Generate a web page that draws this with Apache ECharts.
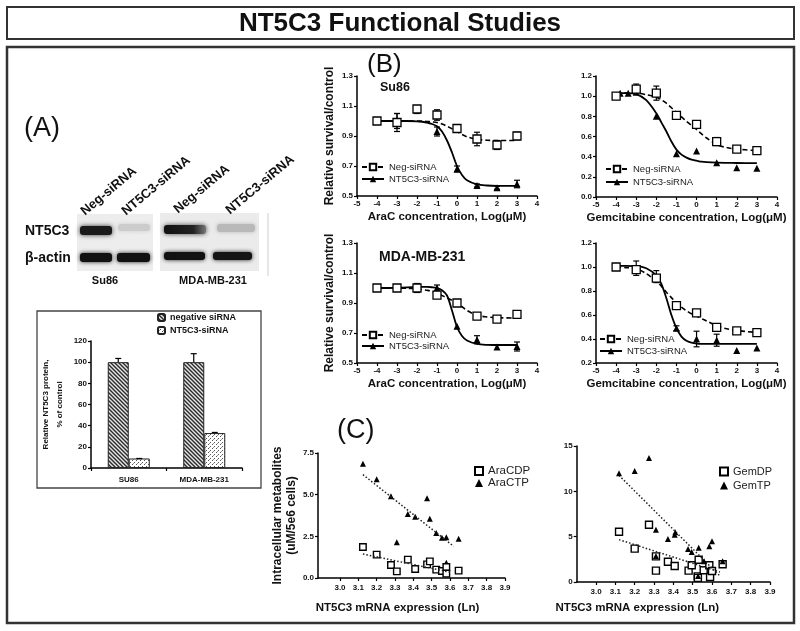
<!DOCTYPE html>
<html><head><meta charset="utf-8">
<script src="https://cdn.jsdelivr.net/npm/echarts@6/dist/echarts.min.js"></script>
<style>html,body{margin:0;padding:0;background:#fff}#c{width:800px;height:631px}</style>
</head><body><div id="c"></div><script>
// ---------------- DATA ----------------
const barCategories = ['SU86', 'MDA-MB-231'];
const barNeg = [100, 100];
const barNegErr = [3.5, 8];
const barKd = [9, 33];
const barKdErr = [0, 0.6];

const doseTicks = [-5, -4, -3, -2, -1, 0, 1, 2, 3, 4];
const doseX = [-4, -3, -2, -1, 0, 1, 2, 3];
const fitX = [-4, -3.5, -3, -2.5, -2, -1.75, -1.5, -1.25, -1, -0.75, -0.5, -0.25, 0, 0.25, 0.5, 1, 1.5, 2, 3];

// Su86 / AraC
const su86AraNeg = [1.00, 0.99, 1.08, 1.04, 0.95, 0.88, 0.84, 0.90];
const su86AraNegErr = [0, 0.06, 0.02, 0.035, 0.025, 0.045, 0.03, 0.025];
const su86AraKdX = [-4, -3, -2, -1, 0, 1, 2, 3];
const su86AraKd = [1.00, 1.00, 1.07, 0.93, 0.68, 0.57, 0.555, 0.58];
const su86AraKdErr = [0, 0.05, 0.02, 0.03, 0.02, 0.01, 0.01, 0.025];
const su86AraNegFit = [1.0, 1.0, 1.0, 1.0, 1.0, 0.999, 0.997, 0.994, 0.99, 0.98, 0.965, 0.948, 0.93, 0.91, 0.895, 0.878, 0.872, 0.87, 0.87];
const su86AraKdFit = [1.0, 1.0, 1.0, 1.0, 0.998, 0.995, 0.99, 0.98, 0.965, 0.93, 0.87, 0.79, 0.70, 0.64, 0.605, 0.577, 0.57, 0.568, 0.568];

// Su86 / Gemcitabine
const su86GemNeg = [1.00, 1.07, 1.03, 0.81, 0.72, 0.55, 0.475, 0.46];
const su86GemNegErr = [0.01, 0.05, 0.07, 0.03, 0.03, 0.04, 0.02, 0.015];
const su86GemKdX = [-4, -3.8, -3.4, -3, -2, -1, 0, 1, 2, 3];
const su86GemKd = [1.00, 1.03, 1.03, 1.04, 0.80, 0.43, 0.455, 0.34, 0.29, 0.285];
const su86GemKdErr = [0, 0, 0, 0, 0, 0, 0, 0, 0, 0];
const su86GemNegFit = [1.03, 1.03, 1.03, 1.015, 0.99, 0.965, 0.93, 0.885, 0.84, 0.795, 0.75, 0.71, 0.67, 0.625, 0.585, 0.52, 0.49, 0.475, 0.46];
const su86GemKdFit = [1.03, 1.03, 1.02, 0.96, 0.83, 0.74, 0.65, 0.55, 0.47, 0.42, 0.39, 0.37, 0.36, 0.35, 0.345, 0.34, 0.338, 0.337, 0.335];

// MDA-MB-231 / AraC
const mdaAraNeg = [1.00, 1.00, 1.00, 0.953, 0.90, 0.813, 0.793, 0.824];
const mdaAraNegErr = [0, 0, 0, 0, 0, 0, 0, 0];
const mdaAraKdX = [-4, -3, -2, -1, 0, 1, 2, 3];
const mdaAraKd = [1.00, 1.00, 1.00, 1.00, 0.745, 0.655, 0.607, 0.61];
const mdaAraKdErr = [0, 0.02, 0.03, 0.02, 0, 0.027, 0, 0.03];
const mdaAraNegFit = [1.0, 1.0, 1.0, 0.998, 0.995, 0.99, 0.985, 0.978, 0.965, 0.95, 0.935, 0.918, 0.90, 0.875, 0.85, 0.818, 0.807, 0.802, 0.80];
const mdaAraKdFit = [1.0, 1.0, 1.002, 1.004, 1.006, 1.007, 1.007, 1.005, 1.0, 0.985, 0.95, 0.85, 0.74, 0.68, 0.65, 0.627, 0.621, 0.62, 0.62];

// MDA-MB-231 / Gemcitabine
const mdaGemNeg = [1.00, 0.978, 0.908, 0.678, 0.617, 0.497, 0.467, 0.453];
const mdaGemNegErr = [0, 0, 0, 0, 0, 0, 0, 0];
const mdaGemKdX = [-4, -3, -2, -1, 0, 1, 2, 3];
const mdaGemKd = [1.00, 0.99, 0.92, 0.49, 0.40, 0.39, 0.305, 0.325];
const mdaGemKdErr = [0, 0.06, 0.05, 0.02, 0.065, 0.05, 0, 0];
const mdaGemNegFit = [1.0, 0.995, 0.985, 0.945, 0.88, 0.84, 0.79, 0.745, 0.70, 0.665, 0.635, 0.61, 0.59, 0.57, 0.55, 0.51, 0.485, 0.47, 0.455];
const mdaGemKdFit = [1.01, 1.01, 1.008, 0.99, 0.93, 0.86, 0.74, 0.60, 0.49, 0.42, 0.385, 0.37, 0.362, 0.36, 0.36, 0.36, 0.36, 0.36, 0.36];

// Panel C
const mrnaTicks = [3.0, 3.1, 3.2, 3.3, 3.4, 3.5, 3.6, 3.7, 3.8, 3.9];
const araX = [3.125, 3.20, 3.278, 3.31, 3.37, 3.41, 3.475, 3.49, 3.525, 3.556, 3.58, 3.58, 3.647];
const araCDP = [1.86, 1.40, 0.78, 0.40, 1.10, 0.54, 0.82, 1.00, 0.50, 0.42, 0.66, 0.26, 0.44];
const araCTP = [6.86, 5.92, 4.90, 2.14, 3.84, 3.68, 4.78, 3.56, 2.70, 2.42, 2.44, 0.92, 2.36];
const araCDPTrendX = [3.125, 3.60];
const araCDPTrend = [1.44, 0.35];
const araCTPTrendX = [3.125, 3.62];
const araCTPTrend = [6.2, 1.9];

const gemDPX = [3.119, 3.20, 3.274, 3.31, 3.31, 3.372, 3.407, 3.479, 3.495, 3.531, 3.526, 3.527, 3.557, 3.586, 3.59, 3.60, 3.655];
const gemDP = [5.55, 3.68, 6.32, 2.83, 1.25, 2.24, 1.76, 1.25, 1.84, 2.46, 0.62, 0.45, 1.29, 1.84, 0.55, 1.21, 1.95];
const gemTPX = [3.119, 3.20, 3.274, 3.31, 3.31, 3.372, 3.407, 3.41, 3.476, 3.495, 3.531, 3.528, 3.559, 3.586, 3.60, 3.655];
const gemTP = [12.0, 12.24, 13.68, 5.77, 2.87, 4.74, 5.22, 5.5, 3.64, 3.31, 3.79, 0.66, 2.28, 3.93, 4.49, 2.28];
const gemDPTrendX = [3.119, 3.641];
const gemDPTrend = [4.67, 1.1];
const gemTPTrendX = [3.119, 3.641];
const gemTPTrend = [11.76, 0.66];

// ---------------- RENDER ----------------
const FONT = "'Liberation Sans', Arial, Helvetica, sans-serif";
const zip = (xs, ys) => xs.map((x, i) => [x, ys[i]]);

function hatchCanvas() {
  const c = document.createElement('canvas'); c.width = 4; c.height = 4;
  const g = c.getContext('2d');
  g.fillStyle = '#e6e6e6'; g.fillRect(0, 0, 4, 4);
  g.strokeStyle = '#2a2a2a'; g.lineWidth = 1.4;
  g.beginPath();
  g.moveTo(-1, -1); g.lineTo(5, 5);
  g.moveTo(-1, 3); g.lineTo(1, 5);
  g.moveTo(3, -1); g.lineTo(5, 1);
  g.stroke();
  return c;
}
function dotCanvas() {
  const c = document.createElement('canvas'); c.width = 4; c.height = 4;
  const g = c.getContext('2d');
  g.fillStyle = '#ffffff'; g.fillRect(0, 0, 4, 4);
  g.fillStyle = '#555';
  g.fillRect(0, 0, 1, 1); g.fillRect(2, 2, 1, 1); g.fillStyle = '#999'; g.fillRect(1, 3, 1, 1);
  return c;
}

function merge(a, b) {
  const o = Object.assign({}, a);
  for (const k in b) {
    if (b[k] && typeof b[k] === 'object' && !Array.isArray(b[k]) && a[k] && typeof a[k] === 'object') o[k] = Object.assign({}, a[k], b[k]);
    else o[k] = b[k];
  }
  return o;
}
const axisBase = {
  axisLine: { show: true, onZero: false, lineStyle: { color: '#000', width: 1.5 } },
  axisTick: { show: true, length: 3, inside: false, lineStyle: { color: '#000', width: 1.2 } },
  axisLabel: { color: '#111', fontSize: 8, fontWeight: 'bold', fontFamily: FONT, margin: 4 },
  splitLine: { show: false },
  nameTextStyle: { color: '#111', fontWeight: 'bold', fontFamily: FONT, fontSize: 11.5 }
};
const ax = (o) => merge(axisBase, o);

function errItem(params, api) {
  const x = api.value(0), lo = api.value(1), hi = api.value(2);
  const p1 = api.coord([x, lo]), p2 = api.coord([x, hi]);
  const w = 3, st = { stroke: '#000', lineWidth: 1.2 };
  return { type: 'group', children: [
    { type: 'line', shape: { x1: p1[0], y1: p1[1], x2: p2[0], y2: p2[1] }, style: st },
    { type: 'line', shape: { x1: p2[0] - w, y1: p2[1], x2: p2[0] + w, y2: p2[1] }, style: st },
    { type: 'line', shape: { x1: p1[0] - w, y1: p1[1], x2: p1[0] + w, y2: p1[1] }, style: st }
  ] };
}
function errData(xs, ys, es) {
  const out = [];
  xs.forEach((x, i) => { if (es[i] > 0) out.push([x, ys[i] - es[i], ys[i] + es[i]]); });
  return out;
}

const SQ = { color: '#fff', borderColor: '#000', borderWidth: 1.3, opacity: 1 };
const TRI = { color: '#000', opacity: 1 };

function dosePanel(gi, negY, negErr, kdX, kdY, kdErr, negFit, kdFit) {
  const a = { xAxisIndex: gi, yAxisIndex: gi };
  return [
    Object.assign({ type: 'line', name: 'Neg-siRNA', data: zip(fitX, negFit), smooth: 0.3, symbol: 'emptyRect', symbolSize: 7, showSymbol: false,
      lineStyle: { color: '#000', width: 1.6, type: [5, 3] }, itemStyle: { color: '#000' }, z: 2, silent: true }, a),
    Object.assign({ type: 'line', name: 'NT5C3-siRNA', data: zip(fitX, kdFit), smooth: 0.3, symbol: 'triangle', symbolSize: 7, showSymbol: false,
      lineStyle: { color: '#000', width: 1.8 }, itemStyle: { color: '#000' }, z: 2, silent: true }, a),
    Object.assign({ type: 'custom', name: 'err-kd', renderItem: errItem, data: errData(kdX, kdY, kdErr), encode: { x: 0, y: [1, 2] }, z: 3, silent: true }, a),
    Object.assign({ type: 'custom', name: 'err-neg', renderItem: errItem, data: errData(doseX, negY, negErr), encode: { x: 0, y: [1, 2] }, z: 3, silent: true }, a),
    Object.assign({ type: 'scatter', name: 'kd-pts', data: zip(kdX, kdY), symbol: 'triangle', symbolSize: 7, itemStyle: TRI, z: 4, silent: true }, a),
    Object.assign({ type: 'scatter', name: 'neg-pts', data: zip(doseX, negY), symbol: 'rect', symbolSize: 8, itemStyle: SQ, z: 5, silent: true }, a)
  ];
}

const hatch = { image: hatchCanvas(), repeat: 'repeat' };
const dots = { image: dotCanvas(), repeat: 'repeat' };
const barW = 21;

function barErr(offset) {
  return function (params, api) {
    const i = api.value(0), v = api.value(1), e = api.value(2);
    const p1 = api.coord([i, v]), p2 = api.coord([i, v + e]);
    const x = p1[0] + offset, w = 3, st = { stroke: '#000', lineWidth: 1.2 };
    return { type: 'group', children: [
      { type: 'line', shape: { x1: x, y1: p1[1], x2: x, y2: p2[1] }, style: st },
      { type: 'line', shape: { x1: x - w, y1: p2[1], x2: x + w, y2: p2[1] }, style: st }
    ] };
  };
}

const doseYLabels1 = [0.5, 0.7, 0.9, 1.1, 1.3];
const doseYLabels2 = [0, 0.2, 0.4, 0.6, 0.8, 1.0, 1.2];
const doseYLabels4 = [0.2, 0.4, 0.6, 0.8, 1.0, 1.2];
const fmt1 = (v) => Number(v).toFixed(1);

const doseX_axis = (gi, name) => ax({ type: 'value', gridIndex: gi, min: -5, max: 4, interval: 1, name: name, nameLocation: 'middle', nameGap: 15,
  axisLabel: { formatter: (v) => String(v) } });

const legText = (size) => ({ fontSize: size, color: '#222', fontFamily: FONT });

const option = {
  animation: false,
  textStyle: { fontFamily: FONT },
  grid: [
    { left: 91, top: 341, width: 151, height: 127 },
    { left: 357, top: 76, width: 180, height: 120 },
    { left: 596, top: 76, width: 181, height: 121 },
    { left: 357, top: 243, width: 180, height: 120 },
    { left: 596, top: 243, width: 181, height: 120 },
    { left: 318, top: 453, width: 187, height: 125 },
    { left: 576.7, top: 446, width: 193.3, height: 136 }
  ],
  xAxis: [
    ax({ type: 'category', gridIndex: 0, data: barCategories, axisTick: { alignWithLabel: false, length: 3 }, axisLabel: { margin: 8 } }),
    doseX_axis(1, 'AraC concentration, Log(μM)'),
    doseX_axis(2, 'Gemcitabine concentration, Log(μM)'),
    doseX_axis(3, 'AraC concentration, Log(μM)'),
    doseX_axis(4, 'Gemcitabine concentration, Log(μM)'),
    ax({ type: 'value', gridIndex: 5, min: 2.88, max: 3.9, name: 'NT5C3 mRNA expression (Ln)', nameLocation: 'middle', nameGap: 24,
      nameTextStyle: { padding: [0, 28, 0, 0] },
      axisTick: { customValues: mrnaTicks }, axisLabel: { customValues: mrnaTicks, formatter: fmt1, margin: 6 } }),
    ax({ type: 'value', gridIndex: 6, min: 2.9, max: 3.9, name: 'NT5C3 mRNA expression (Ln)', nameLocation: 'middle', nameGap: 20,
      nameTextStyle: { padding: [0, 72, 0, 0] },
      axisTick: { customValues: mrnaTicks }, axisLabel: { customValues: mrnaTicks, formatter: fmt1, margin: 6 } })
  ],
  yAxis: [
    ax({ type: 'value', gridIndex: 0, min: 0, max: 120, interval: 20, name: 'Relative NT5C3 protein,\n% of control', nameLocation: 'middle', nameGap: 24,
      nameTextStyle: { fontSize: 8, lineHeight: 14 } }),
    ax({ type: 'value', gridIndex: 1, min: 0.5, max: 1.3, name: 'Relative survival/control', nameLocation: 'middle', nameGap: 21,
      nameTextStyle: { fontSize: 12 },
      axisTick: { customValues: doseYLabels1 }, axisLabel: { customValues: doseYLabels1, formatter: fmt1 } }),
    ax({ type: 'value', gridIndex: 2, min: 0, max: 1.2,
      axisTick: { customValues: doseYLabels2 }, axisLabel: { customValues: doseYLabels2, formatter: fmt1 } }),
    ax({ type: 'value', gridIndex: 3, min: 0.5, max: 1.3, name: 'Relative survival/control', nameLocation: 'middle', nameGap: 21,
      nameTextStyle: { fontSize: 12 },
      axisTick: { customValues: doseYLabels1 }, axisLabel: { customValues: doseYLabels1, formatter: fmt1 } }),
    ax({ type: 'value', gridIndex: 4, min: 0.2, max: 1.2,
      axisTick: { customValues: doseYLabels4 }, axisLabel: { customValues: doseYLabels4, formatter: fmt1 } }),
    ax({ type: 'value', gridIndex: 5, min: 0, max: 7.5, interval: 2.5, name: 'Intracellular metabolites\n(uM/5e6 cells)', nameLocation: 'middle', nameGap: 14,
      nameTextStyle: { fontSize: 12, lineHeight: 14 }, axisLabel: { formatter: fmt1 } }),
    ax({ type: 'value', gridIndex: 6, min: 0, max: 15, interval: 5 })
  ],
  legend: [
    { left: 157, top: 313, padding: 0, orient: 'vertical', itemWidth: 7, itemHeight: 7, itemGap: 4,
      data: ['bar-neg', 'bar-kd'], formatter: (n) => (n === 'bar-neg' ? 'negative siRNA' : 'NT5C3-siRNA'),
      textStyle: { fontSize: 9, fontWeight: 'bold', color: '#111', fontFamily: FONT } },
    { left: 361, top: 162, padding: 0, orient: 'vertical', itemWidth: 22, itemHeight: 8, itemGap: 2, data: ['Neg-siRNA', 'NT5C3-siRNA'], textStyle: legText(9.5) },
    { left: 605, top: 164, padding: 0, orient: 'vertical', itemWidth: 22, itemHeight: 8, itemGap: 3, data: ['Neg-siRNA', 'NT5C3-siRNA'], textStyle: legText(9.5) },
    { left: 361, top: 330, padding: 0, orient: 'vertical', itemWidth: 22, itemHeight: 8, itemGap: 1, data: ['Neg-siRNA', 'NT5C3-siRNA'], textStyle: legText(9.5) },
    { left: 599, top: 334, padding: 0, orient: 'vertical', itemWidth: 22, itemHeight: 8, itemGap: 2, data: ['Neg-siRNA', 'NT5C3-siRNA'], textStyle: legText(9.5) },
    { left: 474, top: 465, padding: 0, orient: 'vertical', itemWidth: 8, itemHeight: 8, itemGap: 0, data: ['AraCDP', 'AraCTP'], textStyle: legText(11.5) },
    { left: 719, top: 466, padding: 0, orient: 'vertical', itemWidth: 8, itemHeight: 8, itemGap: 3, data: ['GemDP', 'GemTP'], textStyle: legText(11) }
  ],
  series: [].concat(
    [
      { type: 'bar', name: 'bar-neg', xAxisIndex: 0, yAxisIndex: 0, data: barNeg, barWidth: barW, barGap: '0%',
        itemStyle: { color: hatch, borderColor: '#222', borderWidth: 1 }, silent: true },
      { type: 'bar', name: 'bar-kd', xAxisIndex: 0, yAxisIndex: 0, data: barKd, barWidth: barW, barGap: '0%',
        itemStyle: { color: dots, borderColor: '#222', borderWidth: 1 }, silent: true },
      { type: 'custom', name: 'bar-neg-err', xAxisIndex: 0, yAxisIndex: 0, renderItem: barErr(-barW / 2),
        data: barNeg.map((v, i) => [i, v, barNegErr[i]]), encode: { x: 0, y: 1 }, z: 3, silent: true },
      { type: 'custom', name: 'bar-kd-err', xAxisIndex: 0, yAxisIndex: 0, renderItem: barErr(barW / 2),
        data: barKd.map((v, i) => [i, v, barKdErr[i]]), encode: { x: 0, y: 1 }, z: 3, silent: true }
    ],
    dosePanel(1, su86AraNeg, su86AraNegErr, su86AraKdX, su86AraKd, su86AraKdErr, su86AraNegFit, su86AraKdFit),
    dosePanel(2, su86GemNeg, su86GemNegErr, su86GemKdX, su86GemKd, su86GemKdErr, su86GemNegFit, su86GemKdFit),
    dosePanel(3, mdaAraNeg, mdaAraNegErr, mdaAraKdX, mdaAraKd, mdaAraKdErr, mdaAraNegFit, mdaAraKdFit),
    dosePanel(4, mdaGemNeg, mdaGemNegErr, mdaGemKdX, mdaGemKd, mdaGemKdErr, mdaGemNegFit, mdaGemKdFit),
    [
      { type: 'line', name: 'araCTP-trend', xAxisIndex: 5, yAxisIndex: 5, data: zip(araCTPTrendX, araCTPTrend), showSymbol: false,
        lineStyle: { color: '#222', width: 1.5, type: [1.5, 2] }, silent: true },
      { type: 'line', name: 'araCDP-trend', xAxisIndex: 5, yAxisIndex: 5, data: zip(araCDPTrendX, araCDPTrend), showSymbol: false,
        lineStyle: { color: '#222', width: 1.5, type: [1.5, 2] }, silent: true },
      { type: 'scatter', name: 'AraCTP', xAxisIndex: 5, yAxisIndex: 5, data: zip(araX, araCTP), symbol: 'triangle', symbolSize: 6,
        itemStyle: TRI, silent: true },
      { type: 'scatter', name: 'AraCDP', xAxisIndex: 5, yAxisIndex: 5, data: zip(araX, araCDP), symbol: 'rect', symbolSize: 6.5,
        itemStyle: { color: '#fff', borderColor: '#000', borderWidth: 1.4, opacity: 1 }, silent: true },
      { type: 'line', name: 'gemTP-trend', xAxisIndex: 6, yAxisIndex: 6, data: zip(gemTPTrendX, gemTPTrend), showSymbol: false,
        lineStyle: { color: '#222', width: 1.5, type: [1.5, 2] }, silent: true },
      { type: 'line', name: 'gemDP-trend', xAxisIndex: 6, yAxisIndex: 6, data: zip(gemDPTrendX, gemDPTrend), showSymbol: false,
        lineStyle: { color: '#222', width: 1.5, type: [1.5, 2] }, silent: true },
      { type: 'scatter', name: 'GemDP', xAxisIndex: 6, yAxisIndex: 6, data: zip(gemDPX, gemDP), symbol: 'rect', symbolSize: 7,
        itemStyle: { color: '#fff', borderColor: '#000', borderWidth: 1.4, opacity: 1 }, silent: true },
      { type: 'scatter', name: 'GemTP', xAxisIndex: 6, yAxisIndex: 6, data: zip(gemTPX, gemTP), symbol: 'triangle', symbolSize: 6,
        itemStyle: TRI, z: 3, silent: true }
    ]
  ),
  graphic: [
    // frames
    { type: 'rect', shape: { x: 7, y: 7, width: 787, height: 32 }, style: { fill: 'none', stroke: '#333', lineWidth: 2 }, silent: true },
    { type: 'text', x: 400, y: 24, style: { text: 'NT5C3 Functional Studies', font: "bold 26px 'Liberation Sans', Arial, sans-serif", fill: '#111', align: 'center', verticalAlign: 'middle' } },
    { type: 'rect', shape: { x: 7, y: 47, width: 787, height: 576 }, style: { fill: 'none', stroke: '#333', lineWidth: 2.5 }, silent: true },
    // panel labels
    { type: 'text', x: 24, y: 129, style: { text: '(A)', font: "27px 'Liberation Sans', Arial, sans-serif", fill: '#111', verticalAlign: 'middle' } },
    { type: 'text', x: 367, y: 65, style: { text: '(B)', font: "26px 'Liberation Sans', Arial, sans-serif", fill: '#111', verticalAlign: 'middle' } },
    { type: 'text', x: 337, y: 431, style: { text: '(C)', font: "27px 'Liberation Sans', Arial, sans-serif", fill: '#111', verticalAlign: 'middle' } },
    { type: 'text', x: 380, y: 88, style: { text: 'Su86', font: "bold 12.5px 'Liberation Sans', Arial, sans-serif", fill: '#111', verticalAlign: 'middle' } },
    { type: 'text', x: 379, y: 257, style: { text: 'MDA-MB-231', font: "bold 14px 'Liberation Sans', Arial, sans-serif", fill: '#111', verticalAlign: 'middle' } },
    // western blot
    { type: 'rect', shape: { x: 77, y: 214, width: 76, height: 57 }, style: { fill: '#ededed' }, silent: true },
    { type: 'rect', shape: { x: 160, y: 213, width: 99, height: 58 }, style: { fill: '#ebebeb' }, silent: true },
    { type: 'line', shape: { x1: 268, y1: 213, x2: 268, y2: 276 }, style: { stroke: '#cfcfcf', lineWidth: 1 }, silent: true },
    { type: 'rect', shape: { x: 80, y: 226, width: 32, height: 9, r: 3 }, style: { fill: '#1a1a1a', shadowBlur: 5, shadowColor: '#333' }, silent: true },
    { type: 'rect', shape: { x: 118, y: 224, width: 32, height: 7, r: 3 }, style: { fill: '#cccccc', shadowBlur: 4, shadowColor: '#ccc' }, silent: true },
    { type: 'rect', shape: { x: 80, y: 253, width: 32, height: 9, r: 3 }, style: { fill: '#111', shadowBlur: 4, shadowColor: '#222' }, silent: true },
    { type: 'rect', shape: { x: 117, y: 253, width: 33, height: 9, r: 3 }, style: { fill: '#111', shadowBlur: 4, shadowColor: '#222' }, silent: true },
    { type: 'rect', shape: { x: 164, y: 225, width: 42, height: 9, r: 3 },
      style: { fill: new echarts.graphic.LinearGradient(0, 0, 1, 0, [{ offset: 0, color: '#111' }, { offset: 0.7, color: '#222' }, { offset: 1, color: '#777' }]), shadowBlur: 5, shadowColor: '#444' }, silent: true },
    { type: 'rect', shape: { x: 217, y: 224, width: 38, height: 8, r: 3 }, style: { fill: '#b9b9b9', shadowBlur: 4, shadowColor: '#bbb' }, silent: true },
    { type: 'rect', shape: { x: 164, y: 252, width: 41, height: 8, r: 3 }, style: { fill: '#111', shadowBlur: 4, shadowColor: '#222' }, silent: true },
    { type: 'rect', shape: { x: 213, y: 252, width: 39, height: 8, r: 3 }, style: { fill: '#151515', shadowBlur: 4, shadowColor: '#222' }, silent: true },
    { type: 'text', x: 87, y: 218, rotation: 40 * Math.PI / 180, style: { text: 'Neg-siRNA', font: "bold 13px 'Liberation Sans', Arial, sans-serif", fill: '#111', align: 'left', verticalAlign: 'bottom' } },
    { type: 'text', x: 128, y: 218, rotation: 40 * Math.PI / 180, style: { text: 'NT5C3-siRNA', font: "bold 13px 'Liberation Sans', Arial, sans-serif", fill: '#111', align: 'left', verticalAlign: 'bottom' } },
    { type: 'text', x: 180, y: 216, rotation: 40 * Math.PI / 180, style: { text: 'Neg-siRNA', font: "bold 13px 'Liberation Sans', Arial, sans-serif", fill: '#111', align: 'left', verticalAlign: 'bottom' } },
    { type: 'text', x: 232, y: 217, rotation: 40 * Math.PI / 180, style: { text: 'NT5C3-siRNA', font: "bold 13px 'Liberation Sans', Arial, sans-serif", fill: '#111', align: 'left', verticalAlign: 'bottom' } },
    { type: 'text', x: 25, y: 231, style: { text: 'NT5C3', font: "bold 14px 'Liberation Sans', Arial, sans-serif", fill: '#111', verticalAlign: 'middle' } },
    { type: 'text', x: 25, y: 258, style: { text: 'β-actin', font: "bold 14px 'Liberation Sans', Arial, sans-serif", fill: '#111', verticalAlign: 'middle' } },
    { type: 'text', x: 105, y: 281, style: { text: 'Su86', font: "bold 11px 'Liberation Sans', Arial, sans-serif", fill: '#111', align: 'center', verticalAlign: 'middle' } },
    { type: 'text', x: 213, y: 281, style: { text: 'MDA-MB-231', font: "bold 11px 'Liberation Sans', Arial, sans-serif", fill: '#111', align: 'center', verticalAlign: 'middle' } },
    // bar chart box
    { type: 'rect', shape: { x: 37, y: 311, width: 224, height: 177 }, style: { fill: 'none', stroke: '#444', lineWidth: 1.3 }, silent: true }
  ]
};

const chart = echarts.init(document.getElementById('c'));
chart.setOption(option);
</script></body></html>
